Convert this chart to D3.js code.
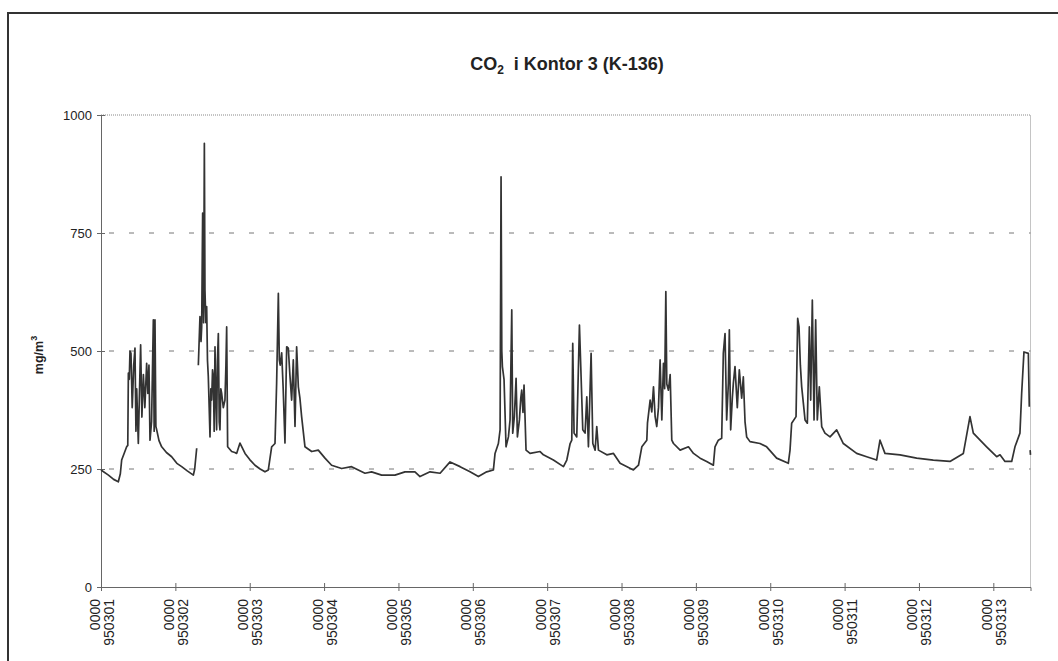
<!DOCTYPE html>
<html>
<head>
<meta charset="utf-8">
<script src="https://cdn.jsdelivr.net/npm/d3@7"></script>
<style>
  body { margin: 0; background: #fff; }
  text { font-family: Arial, "Liberation Sans", sans-serif; fill: #222; }
</style>
</head>
<body>
<svg id="svg" width="1058" height="661"></svg>
<script>
// measurement time in days after 0000 950301, null = gap in the logging
const dayPos = [
  0.00, 0.10, 0.17, 0.233, 0.26, 0.278, 0.345, 0.36, 0.368, 0.38, 0.39, 0.403, 0.42, 0.44, 0.457, 0.47, 0.48, 0.502, 0.52, 0.533,
  0.55, 0.57, 0.59, 0.614, 0.63, 0.645, 0.659, 0.68, 0.704, 0.715, 0.726, 0.738, 0.749, 0.78, 0.816, 0.88, 0.95, 1.02, 1.085, 1.16,
  1.242, 1.26, 1.287, 1.30,
  1.309, 1.331, 1.345, 1.354, 1.367, 1.38, 1.39, 1.398, 1.41, 1.421, 1.432, 1.443, 1.455, 1.466, 1.477, 1.488, 1.50, 1.511, 1.522, 1.533,
  1.545, 1.555, 1.566, 1.578, 1.59, 1.60, 1.611, 1.623, 1.645, 1.667, 1.68, 1.69, 1.703, 1.757, 1.80, 1.824, 1.869, 1.937, 2.00, 2.071,
  2.14, 2.205, 2.25, 2.295, 2.34, 2.362, 2.385, 2.398, 2.41, 2.43, 2.45, 2.474, 2.497, 2.519, 2.54, 2.564, 2.586, 2.609, 2.631, 2.654,
  2.675, 2.698, 2.743, 2.833, 2.922, 3.012, 3.101, 3.236, 3.37, 3.46, 3.55, 3.639, 3.774, 3.953, 4.088, 4.222, 4.29, 4.425, 4.56, 4.694,
  4.829, 4.963, 5.075, 5.187, 5.277, 5.299, 5.344, 5.367, 5.38, 5.39, 5.398, 5.42, 5.447, 5.479, 5.501, 5.524, 5.537, 5.559, 5.582, 5.60,
  5.627, 5.645, 5.658, 5.675, 5.689, 5.716, 5.77, 5.905, 5.95, 6.084, 6.219, 6.264, 6.309, 6.331, 6.344, 6.362, 6.398, 6.434, 6.452, 6.479,
  6.51, 6.533, 6.555, 6.591, 6.614, 6.645, 6.667, 6.69, 6.802, 6.892, 6.981, 7.16, 7.228, 7.273, 7.34, 7.349, 7.385, 7.407, 7.43, 7.452,
  7.474, 7.497, 7.519, 7.542, 7.564, 7.58, 7.596, 7.609, 7.631, 7.654, 7.676, 7.699, 7.788, 7.90, 7.968, 8.057, 8.145, 8.235, 8.257, 8.302,
  8.347, 8.369, 8.392, 8.414, 8.437, 8.45, 8.468, 8.49, 8.504, 8.526, 8.557, 8.584, 8.616, 8.638, 8.661, 8.683, 8.728, 8.862, 8.952, 9.086,
  9.243, 9.266, 9.288, 9.347, 9.369, 9.387, 9.405, 9.423, 9.445, 9.468, 9.499, 9.526, 9.544, 9.566, 9.589, 9.611, 9.633, 9.66, 9.692, 9.736,
  9.804, 9.893, 9.983, 10.162, 10.297, 10.431, 10.476, 10.543, 10.745, 10.969, 11.193, 11.417, 11.597, 11.686, 11.731, 11.91, 12.045, 12.09, 12.157, 12.247,
  12.291, 12.358, 12.381, 12.412, 12.471, 12.484, 12.49,
  12.495, 12.50
];

// CO2 concentration, mg/m3
const co2Values = [
  248, 237, 228, 223, 240, 269, 297, 300, 453, 440, 500, 495, 380, 470, 506, 330, 420, 304, 430, 513,
  360, 450, 380, 474, 410, 470, 311, 350, 566, 330, 566, 340, 333, 310, 297, 285, 276, 262, 255, 246,
  237, 250, 294, null,
  470, 573, 520, 551, 792, 560, 940, 629, 560, 594, 480, 446, 380, 318, 420, 396, 460, 446, 330, 509,
  400, 333, 480, 537, 350, 333, 420, 410, 380, 396, 470, 551, 297, 287, 285, 283, 305, 283, 270, 258,
  250, 244, 248, 297, 304, 432, 622, 481, 470, 496, 420, 305, 509, 506, 450, 396, 481, 340, 509, 424,
  400, 361, 297, 287, 290, 273, 258, 251, 255, 248, 241, 244, 237, 237, 244, 244, 234, 244, 241, 265,
  255, 244, 234, 244, 248, 283, 304, 333, 869, 500, 467, 440, 297, 318, 354, 587, 326, 361, 442, 318,
  354, 400, 417, 370, 428, 290, 283, 287, 280, 269, 255, 269, 304, 311, 516, 326, 318, 555, 467, 333,
  326, 403, 297, 495, 304, 290, 340, 290, 280, 283, 262, 248, 258, 297, 311, 347, 396, 371, 424, 361,
  340, 380, 481, 354, 474, 420, 626, 430, 417, 450, 311, 304, 290, 297, 283, 273, 266, 258, 297, 311,
  315, 495, 537, 354, 432, 545, 333, 400, 432, 467, 380, 460, 400, 445, 350, 318, 308, 304, 297, 273,
  262, 290, 347, 361, 569, 551, 470, 424, 390, 354, 347, 551, 396, 608, 354, 566, 354, 424, 340, 326,
  318, 333, 304, 283, 276, 269, 311, 283, 280, 273, 269, 266, 283, 361, 326, 297, 276, 280, 266, 266,
  297, 326, 410, 498, 495, 382, null,
  290, 280
];

const tickDays = d3.range(0, 13);
const tickDates = ["950301", "950302", "950303", "950304", "950305", "950306", "950307",
                   "950308", "950309", "950310", "950311", "950312", "950313"];
const yTicks = [0, 250, 500, 750, 1000];

const svg = d3.select("#svg");

// outer frame of the scanned page
svg.append("line").attr("x1", 8).attr("x2", 1058).attr("y1", 13).attr("y2", 13)
  .attr("stroke", "#333").attr("stroke-width", 2);
svg.append("line").attr("x1", 8).attr("x2", 8).attr("y1", 12).attr("y2", 661)
  .attr("stroke", "#333").attr("stroke-width", 2);

const plotLeft = 101, plotRight = 1030.5, plotTop = 115, plotBottom = 587;
const xScale = d3.scaleLinear().domain([0, 12.5]).range([plotLeft, plotRight]);
const yScale = d3.scaleLinear().domain([0, 1000]).range([plotBottom, plotTop]);

// title
const title = svg.append("text").attr("x", 567).attr("y", 70)
  .attr("text-anchor", "middle").attr("font-size", 18).attr("font-weight", "bold");
title.append("tspan").text("CO");
title.append("tspan").attr("font-size", 12).attr("dy", 4).text("2");
title.append("tspan").attr("dy", -4).text("\u00a0 i Kontor 3 (K-136)");

// plot frame: dotted top and right
svg.append("path")
  .attr("d", `M${plotLeft},${plotTop}H${plotRight}V${plotBottom}`)
  .attr("fill", "none").attr("stroke", "#888").attr("stroke-width", 1)
  .attr("stroke-dasharray", "1,1");

// gridlines
svg.append("g").selectAll("line")
  .data(yTicks.filter(d => d > 0 && d < 1000))
  .join("line")
  .attr("x1", plotLeft).attr("x2", plotRight)
  .attr("y1", d => yScale(d)).attr("y2", d => yScale(d))
  .attr("stroke", "#777").attr("stroke-width", 1)
  .attr("stroke-dasharray", "5,15").attr("stroke-dashoffset", -8);

// y axis
const yAxis = svg.append("g")
  .attr("transform", `translate(${plotLeft},0)`)
  .call(d3.axisLeft(yScale).tickValues(yTicks).tickFormat(d3.format("d")).tickSize(4).tickPadding(5));
yAxis.select(".domain").attr("stroke", "#666");
yAxis.selectAll(".tick line").attr("x2", 4).attr("x1", -4).attr("stroke", "#666");
yAxis.selectAll(".tick text").attr("font-size", 13).attr("fill", "#222")
  .attr("font-family", "Arial, 'Liberation Sans', sans-serif");

// x axis
const xAxis = svg.append("g")
  .attr("transform", `translate(0,${plotBottom})`)
  .call(d3.axisBottom(xScale).tickValues(tickDays).tickSize(4).tickFormat(""));
xAxis.select(".domain").attr("stroke", "#666");
xAxis.selectAll(".tick line").attr("y1", -4).attr("y2", 4).attr("stroke", "#666");

const lbl = xAxis.selectAll(".tick").append("text")
  .attr("transform", "rotate(-90)")
  .attr("text-anchor", "end")
  .attr("font-size", 14)
  .attr("fill", "#222")
  .attr("font-family", "Arial, 'Liberation Sans', sans-serif");
lbl.append("tspan").attr("x", -12).attr("y", -2).text("0000");
lbl.append("tspan").attr("x", -12).attr("y", 12).text((d, i) => tickDates[i]);

// y label
svg.append("text")
  .attr("transform", "translate(43,355) rotate(-90)")
  .attr("text-anchor", "middle").attr("font-size", 12.5).attr("font-weight", "bold")
  .html('mg/m<tspan font-size="9" dy="-6">3</tspan>');

// the series
const points = dayPos.map((d, i) => [d, co2Values[i]]);
const line = d3.line()
  .defined(d => d[1] !== null)
  .x(d => xScale(d[0]))
  .y(d => yScale(d[1]));

svg.append("path")
  .datum(points)
  .attr("fill", "none")
  .attr("stroke", "#333")
  .attr("stroke-width", 1.7)
  .attr("stroke-linejoin", "round")
  .attr("d", line);
</script>
</body>
</html>
